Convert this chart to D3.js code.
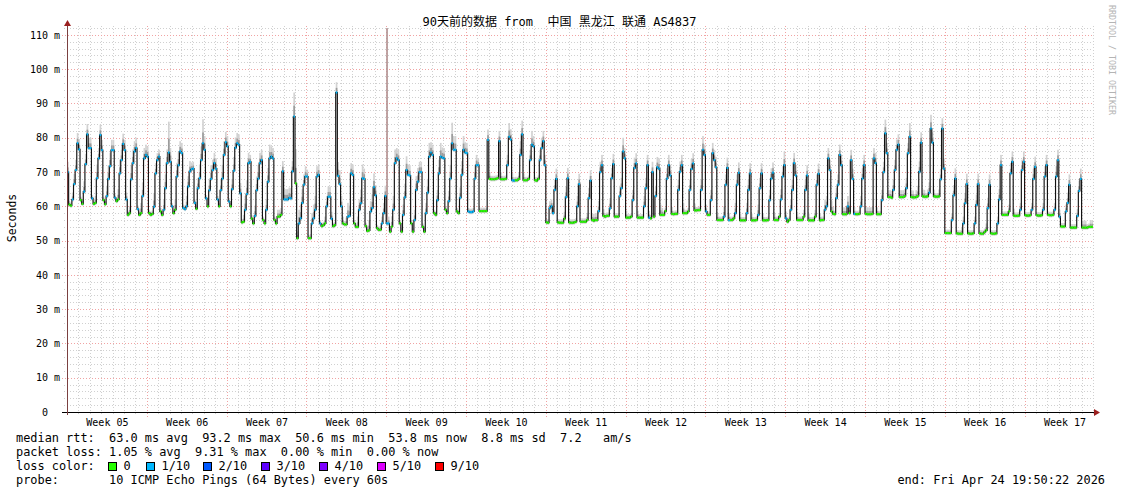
<!DOCTYPE html>
<html><head><meta charset="utf-8">
<script src="https://cdn.jsdelivr.net/npm/d3@7"></script>
<style>
html,body{margin:0;padding:0;background:#fff;}
svg text{font-family:"DejaVu Sans Mono","Noto Sans CJK SC",monospace;white-space:pre;}
</style></head><body>
<svg id="c" width="1121" height="494"></svg>
<script>
// ---------------- DATA ----------------
const titleText = "90天前的数据 from  中国 黑龙江 联通 AS4837";
const yAxisTitle = "Seconds";
const yTicks = [0,10,20,30,40,50,60,70,80,90,100,110];
const yTickLabels = ["0  ","10 m","20 m","30 m","40 m","50 m","60 m","70 m","80 m","90 m","100 m","110 m"];
const weekLabels = ["Week 05","Week 06","Week 07","Week 08","Week 09","Week 10","Week 11","Week 12","Week 13","Week 14","Week 15","Week 16","Week 17"];
const statLines = [
  "median rtt:  63.0 ms avg  93.2 ms max  50.6 ms min  53.8 ms now  8.8 ms sd  7.2   am/s",
  "packet loss: 1.05 % avg  9.31 % max  0.00 % min  0.00 % now"
];
const lossLegendLabel = "loss color:";
const lossLegendNames = ["0","1/10","2/10","3/10","4/10","5/10","9/10"];
const lossLegendColors = ["#26ff00","#00b8ff","#0059ff","#5e00ff","#7e00ff","#dd00ff","#ff0000"];
const probeLine = "probe:       10 ICMP Echo Pings (64 Bytes) every 60s";
const endLine = "end: Fri Apr 24 19:50:22 2026";
const watermark = "RRDTOOL / TOBI OETIKER";

// median rtt (ms), 7 samples per day, one array per week (days from left edge)
const rttW05 = [70,60.5,60.2,62,66.5,70.6,78.4, 76.6,61.8,60.7,64.3,72.3,81,77, 77,62.3,60.7,61,68.2,74,80.8, 76.4,61.8,60.6,63,68,71.7,76.4, 76.4,62.5,61.5,62,69.6,73.5,78.2, 76.4,62,57.5,58,67.9,72.6,76, 77,59.2,57.5,58,63,74,75];
const rttW06 = [74.5,58,57.5,57.8,59.9,69.6,73.5, 74.5,58.5,57.5,59,65.3,72.6,75.7, 73,60,58,59,68.7,72,76, 75.5,59.5,59.2,60,65.8,70.2,70.8, 71,61,59.3,65.3,68.2,73.5,78.4, 76.5,62.3,60,64.7,68,70.6,72.6, 71,62,60,64.7,68.1,75,78.7];
const rttW07 = [77.5,61.4,60,65,70.4,77.1,78.4, 78,63.8,55.3,55.5,59,63.6,72.6, 73,56.4,55,57.2,64.7,68.1,72.6, 73.5,56,55,59,67.2,74,74.5, 74,56,55,57,57,57.5,70.2, 62,62,62,62.5,62.3,70.2,86.2, 66.7,50.7,55,56.5,61,66.3,68.7];
const rttW08 = [68.7,50.7,50.7,55,56.5,59,68.7, 69.2,55,54.2,54.5,55,60,62.8, 62.8,56.4,54.2,54.5,93.2,68.9,66.5, 60,55,54.7,54.7,57,57.2,69.6, 69.2,55,54,54,59,60.9,68.2, 68,54.2,52.8,53,58.5,59.5,65.6, 63.2,53.6,53.1,53.2,55,58,63];
const rttW09 = [55,55,52.6,54.1,59,72.6,74, 73.5,55,52.6,57.5,62.6,70.6,69.2, 69,55,52.6,56,64.8,67.2,70, 70,54,52.6,58,64,74.5,75.7, 75,58,57.5,61.8,69.6,74.5,74.2, 74,59,58,61.5,68.1,78.4,76.5, 76.5,58.5,58,62.5,69.2,76.5,75.7];
const rttW10 = [75.5,58.5,58.3,58.3,58.5,68.1,72, 72,58.6,58.6,58.6,58.6,58.6,79.4, 68,67.9,67.9,67.9,68,68.2,79, 67.9,67.9,67.9,68,72,80.3,79.5, 67.6,67.5,67.6,67.6,68,75,81, 67.6,67.6,67.6,68,73.5,78,77.5, 67.6,67.5,68,73.5,77,79,72];
const rttW11 = [55.3,55.2,59.5,60,58,64.8,68, 55.3,55.2,55.2,55.2,56.4,62.7,68.2, 55.3,55.2,55.2,55.3,55.5,60,66.5, 55.5,55.5,55.5,55.5,56,62.4,67.5, 56,55.8,56,56,58.6,70,72, 57.2,57,57.2,57.2,59.4,68.2,72.3, 57,57,57,63,65.3,76,74];
const rttW12 = [56.7,56.7,56.7,57,61.8,71.2,72.5, 56.7,56.7,56.7,56.7,60,65.3,72, 56.7,56.5,70,57,63,71.4,71, 57.5,57.5,57.5,58.6,68.1,72,69, 57.8,57.7,57.8,57.8,64.8,70.1,72, 58,58,58,58.5,64.8,70.9,72.5, 58.8,58.8,58.9,58.9,64.8,76.5,75];
const rttW13 = [58.5,57.5,57.5,61.8,75.5,73.5,71.4, 56,56,56,56,57,66.3,71.2, 56,56,56,56.5,58,66.3,69.8, 55.9,55.9,55.9,55.9,58,64.8,69.6, 55.9,55.9,55.9,56,57.5,65.3,69.6, 55.9,55.9,55.9,56,61.8,68.1,69.8, 56,56,56,57,62,68.7,72];
const rttW14 = [56.5,55.5,56,59,64.8,72.6,69, 56,56,56,56,57,64.8,69, 55.9,55.9,55.9,55.9,57,66.3,69.5, 55.9,56,56,59,60,74,70.6, 58.5,57.8,57.7,62.4,66.3,75,72, 57.7,57.7,57.7,60,58,73.5,68, 57.8,57.7,57.7,57.8,60,68.1,72];
const rttW15 = [57.8,57.7,57.7,57.7,57.8,74,72.6, 57.7,57.7,57.7,61.8,70,81.3,75.5, 62.7,62.7,62.5,64.8,70.6,76.5,78, 62.7,62.7,62.7,63,65.3,75.5,80.3, 62.7,62.6,62.6,62.7,63,70.1,78.6, 62.9,62.8,62.8,62.9,64,82.7,78.6, 62.9,62.8,62.8,62.9,67.9,82.7,71];
const rttW16 = [52.2,52.2,52.2,52.2,56,63.2,68.1, 52.1,52,52,52,55,60.9,66.5, 52.1,52,52,52.1,55,60.4,66.5, 52.1,52,52,52.5,53,59.5,66.3, 52.1,52,52,52.1,55,62,72, 57.5,57.5,57.5,57.5,58.5,69.6,73, 57.3,57.2,57.2,57.3,59,70.6,73];
const rttW17 = [57.4,57.3,57.3,57.4,59,68,71.5, 57.4,57.3,57.3,57.4,59,68.7,72, 57.5,57.4,57.4,57.5,59,68.7,73.5, 57,54.1,54.1,54.1,58.5,61,66.3, 53.8,53.8,53.8,53.8,57.2,64.5,68, 53.8,53.8,53.8,53.8,54,54,54];

// packet loss per sample (tenths of pings lost)
const lossW05 = "1001111 1001111 1100111 1001111 1100111 1100111 1100111";
const lossW06 = "1000111 1001111 1100111 1111111 1101111 1101111 1101111";
const lossW07 = "1101111 1100111 1001111 1001111 1000001 1111111 0011111";
const lossW08 = "1001111 1100011 1100111 1000111 1000111 1000111 1000111";
const lossW09 = "1100111 1001111 1001111 1001111 1001111 1001111 1001111";
const lossW10 = "1111111 1000001 0000001 0000111 1100011 0000111 0001111";
const lossW11 = "0011111 0000011 0000011 0000011 0000111 0000111 0001111";
const lossW12 = "0000111 0000111 1010111 0000111 0000111 0000111 0000111";
const lossW13 = "1001111 0000111 1000111 0000111 0000111 0000111 0000111";
const lossW14 = "1001111 0000011 0000011 0001111 0001111 0001011 1000111";
const lossW15 = "0000011 0001111 0001111 0000111 0000011 0000111 0000111";
const lossW16 = "0000111 0000111 0000111 0000011 0000111 0000011 0000111";
const lossW17 = "0000111 0000111 0000111 1000111 0000111 0000000";

// smoke: spread of the pings above the median (ms)
const smokeW05 = [3,1,1,2,3,3,3, 3,1,1,3,3,3,3, 3,1,1,2,4,3,3, 3,1,1,3,4,4,3, 3,1,1,3,4,3,3, 3,2,1,2,4,4,3, 3,1,1,3,4,3,3];
const smokeW06 = [3,1,1,1,4,3,2, 2,1,1,3,4,4,9, 4,1,1,3,4,4,3, 3,1,1,3,3,3,2, 2,1,1,3,4,4,7, 4,1,1,3,4,3,3, 3,1,1,3,4,4,3];
const smokeW07 = [3,1,1,3,4,3,3, 3,3,1,2,4,4,3, 2,1,1,3,4,4,3, 3,1,1,3,4,4,3, 3,1,1,2,2,2,3, 3,3,3,3,3,3,7, 10,2,4,4,4,3,3];
const smokeW08 = [2,1,1,3,4,4,3, 3,1,1,1,2,3,3, 3,2,1,1,3,4,4, 3,2,1,2,4,3,3, 3,1,1,3,3,4,4, 3,1,1,3,3,4,4, 3,1,1,1,2,3,3];
const smokeW09 = [57,2,1,3,4,4,3, 3,1,1,3,4,4,3, 3,1,1,3,4,4,3, 3,1,1,3,4,4,3, 3,1,1,3,4,4,3, 3,1,1,3,4,6,4, 4,1,1,3,4,4,3];
const smokeW10 = [3,1,1,1,1,4,3, 2,1,1,1,1,1,3, 2,1,1,1,1,1,3, 2,1,1,1,3,4,3, 2,1,1,1,2,4,4, 2,1,1,1,3,4,3, 1,1,1,3,3,3,3];
const smokeW11 = [1,1,2,2,3,3,3, 1,1,1,1,2,3,3, 1,1,1,1,1,3,3, 1,1,1,1,2,3,3, 2,2,2,2,3,3,3, 2,1,1,1,3,3,3, 1,1,1,3,3,4,3];
const smokeW12 = [2,1,1,1,3,3,3, 2,1,1,1,3,3,3, 2,1,3,1,3,3,3, 3,2,1,1,3,3,3, 2,1,1,1,3,3,3, 3,1,1,1,3,3,3, 2,1,1,1,3,4,3];
const smokeW13 = [2,1,1,3,3,3,3, 2,1,1,1,3,3,3, 2,1,1,1,3,3,3, 2,1,1,1,3,3,3, 2,1,1,1,3,3,3, 2,1,1,1,3,3,3, 2,1,1,1,3,3,4];
const smokeW14 = [2,1,1,3,3,3,3, 2,1,1,1,2,3,3, 2,1,1,1,2,3,3, 2,1,1,3,3,3,3, 3,2,1,3,3,3,3, 2,2,2,3,2,3,3, 2,1,1,1,3,3,3];
const smokeW15 = [2,2,2,2,2,3,3, 2,1,1,3,3,4,3, 2,2,2,3,3,3,3, 2,2,2,2,3,3,4, 2,2,1,2,3,3,3, 2,2,1,2,3,4,3, 2,1,1,2,3,3,3];
const smokeW16 = [1,1,1,1,2,3,3, 1,1,1,2,2,3,3, 1,1,1,1,2,3,3, 1,1,1,1,2,3,3, 1,1,1,1,2,3,3, 1,1,1,1,2,3,3, 2,1,1,1,2,3,3];
const smokeW17 = [1,1,1,1,2,3,3, 1,1,1,1,2,3,3, 1,1,1,1,2,3,3, 2,1,1,1,2,3,3, 1,1,1,1,2,3,3, 2,2,2,1,1,2,2];

// ---------------- DRAW ----------------
const SLOTS = 7, DAYS = 90;
const rtt = [].concat(rttW05,rttW06,rttW07,rttW08,rttW09,rttW10,rttW11,rttW12,rttW13,rttW14,rttW15,rttW16,rttW17);
const loss = [lossW05,lossW06,lossW07,lossW08,lossW09,lossW10,lossW11,lossW12,lossW13,lossW14,lossW15,lossW16,lossW17].join("").replace(/\s/g,"");
const smoke = [].concat(smokeW05,smokeW06,smokeW07,smokeW08,smokeW09,smokeW10,smokeW11,smokeW12,smokeW13,smokeW14,smokeW15,smokeW16,smokeW17);
const pts = rtt.map((v,i)=>({t:i/SLOTS, v, loss:+loss[i], up:smoke[i]}));

const svg = d3.select("#c");
const x = d3.scaleLinear().domain([0,DAYS]).range([67,1093]);
const y = d3.scaleLinear().domain([0,112.6]).range([412,26]);
const snap = v => Math.round(v)+0.5;
const FONT = '"DejaVu Sans Mono","Noto Sans CJK SC",monospace';

svg.append("rect").attr("width",1121).attr("height",494).attr("fill","#fff");

// grid
const grid = svg.append("g").attr("stroke-width",1);
grid.selectAll(".hmin").data(d3.range(2,113,2).filter(v=>v%10!==0)).join("line")
  .attr("x1",64).attr("x2",1093).attr("y1",d=>snap(y(d))).attr("y2",d=>snap(y(d)))
  .attr("stroke","#d0d0d0").attr("stroke-dasharray","1,2");
grid.selectAll(".vmin").data(d3.range(1,DAYS+1).filter(d=>d%7!==0)).join("line")
  .attr("x1",d=>snap(x(d))).attr("x2",d=>snap(x(d))).attr("y1",26).attr("y2",415)
  .attr("stroke","#d0d0d0").attr("stroke-dasharray","1,2");
grid.selectAll(".hmaj").data(yTicks.filter(v=>v>0)).join("line")
  .attr("x1",62).attr("x2",1093).attr("y1",d=>snap(y(d))).attr("y2",d=>snap(y(d)))
  .attr("stroke","#f1a3a3").attr("stroke-dasharray","1,2");
const weekLines = d3.range(7,DAYS,7);
grid.selectAll(".vmaj").data(weekLines).join("line")
  .attr("x1",d=>snap(x(d))).attr("x2",d=>snap(x(d))).attr("y1",26).attr("y2",417)
  .attr("stroke","#f1a3a3").attr("stroke-dasharray","1,2");

// smoke
const w = x(1/SLOTS)-x(0);
const sm = svg.append("g");
sm.selectAll("rect.o").data(pts).join("rect")
  .attr("x",d=>x(d.t)).attr("width",w+0.05)
  .attr("y",d=>y(d.v+d.up)).attr("height",d=>y(d.v-0.6)-y(d.v+d.up))
  .attr("fill",d=>d.up>20?"#b39595":"#d2d2d2");
sm.selectAll("rect.i").data(pts.filter(d=>d.up<=20)).join("rect")
  .attr("x",d=>x(d.t)).attr("width",w+0.05)
  .attr("y",d=>y(d.v+d.up*0.45)).attr("height",d=>y(d.v-0.3)-y(d.v+d.up*0.45))
  .attr("fill","#9c9c9c");

// median line
const linePts = pts.concat([{t:DAYS, v:pts[pts.length-1].v}]);
svg.append("path").datum(linePts)
  .attr("d",d3.line().x(d=>x(d.t)).y(d=>y(d.v)).curve(d3.curveStepAfter))
  .attr("fill","none").attr("stroke","#111").attr("stroke-width",1.15);
svg.append("g").selectAll("line").data(pts).join("line")
  .attr("x1",d=>x(d.t)).attr("x2",d=>x(d.t)+w)
  .attr("y1",d=>y(d.v)).attr("y2",d=>y(d.v))
  .attr("stroke",d=>lossLegendColors[d.loss]).attr("stroke-width",2.2);

// axes lines + arrows
svg.append("line").attr("x1",62).attr("x2",1094).attr("y1",412.5).attr("y2",412.5).attr("stroke","#000");
svg.append("line").attr("x1",67.5).attr("x2",67.5).attr("y1",22).attr("y2",415).attr("stroke","#7a4040");
svg.append("path").attr("d","M67.5,20 L64,26 L71,26 Z").attr("fill","#9b2020");
svg.append("path").attr("d","M1100,412.5 L1094,409 L1094,416 Z").attr("fill","#9b2020");

// y axis labels
const yAx = svg.append("g").attr("transform","translate(67,0)")
  .call(d3.axisLeft(y).tickValues(yTicks).tickFormat((d,i)=>yTickLabels[i]).tickSize(0).tickPadding(7));
yAx.select(".domain").remove();
yAx.attr("font-family",FONT).attr("font-size",10);
yAx.selectAll("text").attr("fill","#000").style("white-space","pre");

// x axis labels
const xAx = svg.append("g").attr("transform","translate(0,412)")
  .call(d3.axisBottom(x).tickValues(weekLabels.map((_,i)=>i*7+3.5)).tickFormat((d,i)=>weekLabels[i]).tickSize(0).tickPadding(6.4));
xAx.select(".domain").remove();
xAx.attr("font-family",FONT).attr("font-size",10);
xAx.selectAll("text").attr("fill","#000");

// title
svg.append("text").attr("x",559.5).attr("y",25.5).attr("text-anchor","middle")
  .attr("font-size",12).attr("fill","#000").text(titleText);
// y title
svg.append("text").attr("transform","translate(15.5,218) rotate(-90)").attr("text-anchor","middle")
  .attr("font-size",11.5).attr("fill","#000").text(yAxisTitle);
// watermark
svg.append("text").attr("transform","translate(1108.5,5) rotate(90)")
  .attr("font-size",8.3).attr("fill","#b4b4b4").text(watermark);

// legend
const LF = 11.9;
statLines.forEach((s,i)=>{
  svg.append("text").attr("x",16).attr("y",442.3+14*i).attr("font-size",LF).attr("fill","#000").text(s);
});
svg.append("text").attr("x",16).attr("y",470.3).attr("font-size",LF).attr("fill","#000").text(lossLegendLabel);
const boxX = [108.5,146.5,203.5,261.5,319.5,377.5,435.5];
const lg = svg.append("g");
lg.selectAll("rect").data(lossLegendColors).join("rect")
  .attr("x",(d,i)=>boxX[i]).attr("y",462.5).attr("width",8).attr("height",8)
  .attr("fill",d=>d).attr("stroke","#000").attr("stroke-width",1);
lg.selectAll("text").data(lossLegendNames).join("text")
  .attr("x",(d,i)=>boxX[i]+15).attr("y",470.3).attr("font-size",LF).attr("fill","#000").text(d=>d);
svg.append("text").attr("x",16).attr("y",484.3).attr("font-size",LF).attr("fill","#000").text(probeLine);
svg.append("text").attr("x",1105).attr("y",484.3).attr("text-anchor","end").attr("font-size",LF).attr("fill","#000").text(endLine);
</script>
</body></html>
